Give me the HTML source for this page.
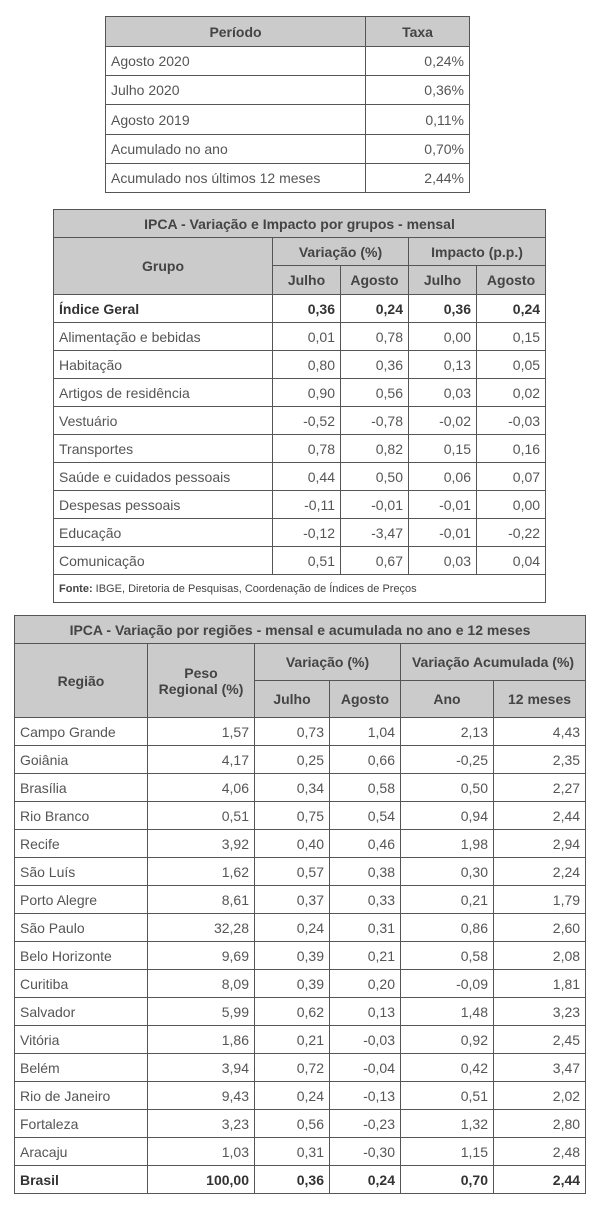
<!DOCTYPE html>
<html><head><meta charset="utf-8"><style>
body{margin:0;width:606px;height:1211px;background:#fff;font-family:"Liberation Sans",sans-serif;font-size:14px;color:#555;position:relative;overflow:hidden}
table{position:absolute;border-collapse:collapse;table-layout:fixed}
td,th{border:1px solid #555;padding:0 5px;white-space:nowrap;overflow:hidden}
th{background:#cbcbcb;color:#444;font-weight:bold;text-align:center}
td.r{text-align:right}
tr.b td{font-weight:bold;color:#333}
</style></head><body>

<table style="left:105px;top:16px;width:364px">
<col style="width:260px"><col style="width:104px">
<tr style="height:30px"><th>Período</th><th>Taxa</th></tr>
<tr style="height:29px"><td>Agosto 2020</td><td class="r">0,24%</td></tr>
<tr style="height:29px"><td>Julho 2020</td><td class="r">0,36%</td></tr>
<tr style="height:30px"><td>Agosto 2019</td><td class="r">0,11%</td></tr>
<tr style="height:29px"><td>Acumulado no ano</td><td class="r">0,70%</td></tr>
<tr style="height:29px"><td>Acumulado nos últimos 12 meses</td><td class="r">2,44%</td></tr>
</table>

<table style="left:53px;top:209px;width:492px">
<col style="width:219px"><col style="width:68px"><col style="width:68px"><col style="width:68px"><col style="width:69px">
<tr style="height:28px"><th colspan="5">IPCA - Variação e Impacto por grupos - mensal</th></tr>
<tr style="height:28px"><th rowspan="2">Grupo</th><th colspan="2">Variação (%)</th><th colspan="2">Impacto (p.p.)</th></tr>
<tr style="height:29px"><th>Julho</th><th>Agosto</th><th>Julho</th><th>Agosto</th></tr>
<tr class="b" style="height:28px"><td>Índice Geral</td><td class="r">0,36</td><td class="r">0,24</td><td class="r">0,36</td><td class="r">0,24</td></tr>
<tr style="height:28px"><td>Alimentação e bebidas</td><td class="r">0,01</td><td class="r">0,78</td><td class="r">0,00</td><td class="r">0,15</td></tr>
<tr style="height:28px"><td>Habitação</td><td class="r">0,80</td><td class="r">0,36</td><td class="r">0,13</td><td class="r">0,05</td></tr>
<tr style="height:28px"><td>Artigos de residência</td><td class="r">0,90</td><td class="r">0,56</td><td class="r">0,03</td><td class="r">0,02</td></tr>
<tr style="height:28px"><td>Vestuário</td><td class="r">-0,52</td><td class="r">-0,78</td><td class="r">-0,02</td><td class="r">-0,03</td></tr>
<tr style="height:28px"><td>Transportes</td><td class="r">0,78</td><td class="r">0,82</td><td class="r">0,15</td><td class="r">0,16</td></tr>
<tr style="height:28px"><td>Saúde e cuidados pessoais</td><td class="r">0,44</td><td class="r">0,50</td><td class="r">0,06</td><td class="r">0,07</td></tr>
<tr style="height:28px"><td>Despesas pessoais</td><td class="r">-0,11</td><td class="r">-0,01</td><td class="r">-0,01</td><td class="r">0,00</td></tr>
<tr style="height:28px"><td>Educação</td><td class="r">-0,12</td><td class="r">-3,47</td><td class="r">-0,01</td><td class="r">-0,22</td></tr>
<tr style="height:28px"><td>Comunicação</td><td class="r">0,51</td><td class="r">0,67</td><td class="r">0,03</td><td class="r">0,04</td></tr>
<tr style="height:28px"><td colspan="5" style="font-size:11px;color:#444"><b>Fonte:</b> IBGE, Diretoria de Pesquisas, Coordenação de Índices de Preços</td></tr>
</table>

<table style="left:14px;top:615px;width:571px">
<col style="width:133px"><col style="width:107px"><col style="width:75px"><col style="width:71px"><col style="width:93px"><col style="width:92px">
<tr style="height:28px"><th colspan="6">IPCA - Variação por regiões - mensal e acumulada no ano e 12 meses</th></tr>
<tr style="height:37px"><th rowspan="2">Região</th><th rowspan="2">Peso<br>Regional (%)</th><th colspan="2">Variação (%)</th><th colspan="2">Variação Acumulada (%)</th></tr>
<tr style="height:37px"><th>Julho</th><th>Agosto</th><th>Ano</th><th>12 meses</th></tr>
<tr style="height:28px"><td>Campo Grande</td><td class="r">1,57</td><td class="r">0,73</td><td class="r">1,04</td><td class="r">2,13</td><td class="r">4,43</td></tr>
<tr style="height:28px"><td>Goiânia</td><td class="r">4,17</td><td class="r">0,25</td><td class="r">0,66</td><td class="r">-0,25</td><td class="r">2,35</td></tr>
<tr style="height:28px"><td>Brasília</td><td class="r">4,06</td><td class="r">0,34</td><td class="r">0,58</td><td class="r">0,50</td><td class="r">2,27</td></tr>
<tr style="height:28px"><td>Rio Branco</td><td class="r">0,51</td><td class="r">0,75</td><td class="r">0,54</td><td class="r">0,94</td><td class="r">2,44</td></tr>
<tr style="height:28px"><td>Recife</td><td class="r">3,92</td><td class="r">0,40</td><td class="r">0,46</td><td class="r">1,98</td><td class="r">2,94</td></tr>
<tr style="height:28px"><td>São Luís</td><td class="r">1,62</td><td class="r">0,57</td><td class="r">0,38</td><td class="r">0,30</td><td class="r">2,24</td></tr>
<tr style="height:28px"><td>Porto Alegre</td><td class="r">8,61</td><td class="r">0,37</td><td class="r">0,33</td><td class="r">0,21</td><td class="r">1,79</td></tr>
<tr style="height:28px"><td>São Paulo</td><td class="r">32,28</td><td class="r">0,24</td><td class="r">0,31</td><td class="r">0,86</td><td class="r">2,60</td></tr>
<tr style="height:28px"><td>Belo Horizonte</td><td class="r">9,69</td><td class="r">0,39</td><td class="r">0,21</td><td class="r">0,58</td><td class="r">2,08</td></tr>
<tr style="height:28px"><td>Curitiba</td><td class="r">8,09</td><td class="r">0,39</td><td class="r">0,20</td><td class="r">-0,09</td><td class="r">1,81</td></tr>
<tr style="height:28px"><td>Salvador</td><td class="r">5,99</td><td class="r">0,62</td><td class="r">0,13</td><td class="r">1,48</td><td class="r">3,23</td></tr>
<tr style="height:28px"><td>Vitória</td><td class="r">1,86</td><td class="r">0,21</td><td class="r">-0,03</td><td class="r">0,92</td><td class="r">2,45</td></tr>
<tr style="height:28px"><td>Belém</td><td class="r">3,94</td><td class="r">0,72</td><td class="r">-0,04</td><td class="r">0,42</td><td class="r">3,47</td></tr>
<tr style="height:28px"><td>Rio de Janeiro</td><td class="r">9,43</td><td class="r">0,24</td><td class="r">-0,13</td><td class="r">0,51</td><td class="r">2,02</td></tr>
<tr style="height:28px"><td>Fortaleza</td><td class="r">3,23</td><td class="r">0,56</td><td class="r">-0,23</td><td class="r">1,32</td><td class="r">2,80</td></tr>
<tr style="height:28px"><td>Aracaju</td><td class="r">1,03</td><td class="r">0,31</td><td class="r">-0,30</td><td class="r">1,15</td><td class="r">2,48</td></tr>
<tr class="b" style="height:28px"><td>Brasil</td><td class="r">100,00</td><td class="r">0,36</td><td class="r">0,24</td><td class="r">0,70</td><td class="r">2,44</td></tr>
</table>
</body></html>
